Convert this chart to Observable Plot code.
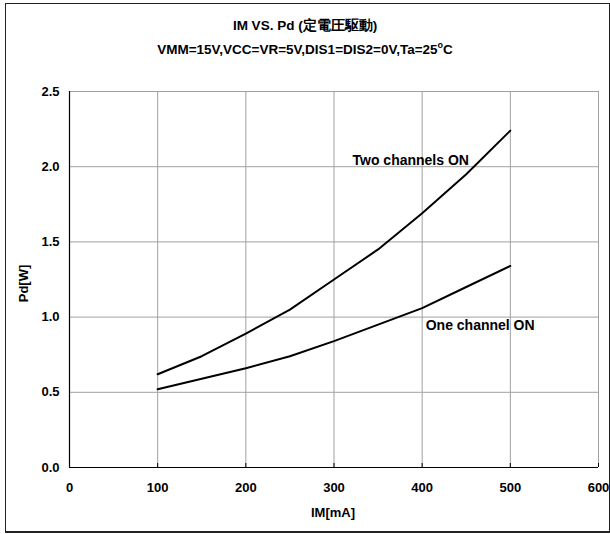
<!DOCTYPE html>
<html>
<head>
<meta charset="utf-8">
<script src="https://cdn.jsdelivr.net/npm/d3@7"></script>
<script src="https://cdn.jsdelivr.net/npm/@observablehq/plot@0.6"></script>
<style>
  body { margin: 0; background: #fff; }
  #wrap { position: relative; width: 610px; height: 534px; font-family: "Liberation Sans", Arial, sans-serif; }
  #frame { position: absolute; left: 5px; top: 3px; width: 603px; height: 527px; border: 1px solid #222; border-bottom-width: 2px; pointer-events: none; }
  .t { position: absolute; left: 0; width: 610px; text-align: center; font-weight: bold; color: #000; line-height: 1; }
  #title { top: 19px; font-size: 13.5px; }
  #sub { top: 41px; font-size: 13.5px; }
  #chart { position: absolute; left: 0; top: 0; }
  .ax { position: absolute; font-weight: bold; font-size: 13px; color: #000; line-height: 1; white-space: nowrap; }
  #xlab { left: 283px; width: 100px; text-align: center; top: 506px; }
  #ylab { left: -27px; width: 100px; text-align: center; top: 277px; transform: rotate(-90deg); }
</style>
</head>
<body>
<div id="wrap">
  <div id="chart"></div>
  <div id="frame"></div>
  <div id="title" class="t">IM VS. Pd (定電圧駆動)</div>
  <div id="sub" class="t">VMM=15V,VCC=VR=5V,DIS1=DIS2=0V,Ta=25<sup style="font-size:9px">o</sup>C</div>
  <div id="xlab" class="ax">IM[mA]</div>
  <div id="ylab" class="ax">Pd[W]</div>
</div>
<script>
const current = [100, 150, 200, 250, 300, 350, 400, 450, 500];
const twoChannels = [0.62, 0.74, 0.89, 1.05, 1.25, 1.45, 1.69, 1.95, 2.24];
const oneChannel = [0.52, 0.59, 0.66, 0.74, 0.84, 0.95, 1.06, 1.20, 1.34];
const xTicks = [0, 100, 200, 300, 400, 500, 600];
const yTicks = [0, 0.5, 1.0, 1.5, 2.0, 2.5];
const labels = [
  {name: "Two channels ON", x: 321, y: 2.04},
  {name: "One channel ON", x: 404, y: 0.945}
];

const two = current.map((x, i) => ({x, y: twoChannels[i]}));
const one = current.map((x, i) => ({x, y: oneChannel[i]}));

const plot = Plot.plot({
  width: 610,
  height: 534,
  marginLeft: 69,
  marginRight: 12,
  marginTop: 91,
  marginBottom: 67,
  style: {fontFamily: '"Liberation Sans", Arial, sans-serif', fontSize: "13px", fontWeight: "bold", color: "#000", background: "transparent"},
  x: {domain: [0, 600]},
  y: {domain: [0, 2.5]},
  marks: [
    Plot.gridX(xTicks.slice(1), {stroke: "#a0a0a0", strokeOpacity: 1}),
    Plot.gridY(yTicks.slice(1), {stroke: "#a0a0a0", strokeOpacity: 1}),
    Plot.ruleX(xTicks.slice(1), {y1: 0, y2: 0, insetTop: -4, stroke: "#000"}),
    Plot.axisX(xTicks, {tickSize: 0, tickPadding: 15, tickFormat: d => String(d), label: null, fontSize: 13}),
    Plot.axisY(yTicks, {tickSize: 0, tickPadding: 10, tickFormat: d => d.toFixed(1), label: null, fontSize: 13}),
    Plot.ruleX([0], {stroke: "#000", strokeWidth: 1.2}),
    Plot.ruleY([0], {stroke: "#000", strokeWidth: 1.2}),
    Plot.line(two, {x: "x", y: "y", stroke: "#000", strokeWidth: 2}),
    Plot.line(one, {x: "x", y: "y", stroke: "#000", strokeWidth: 2}),
    Plot.text(labels, {x: "x", y: "y", text: "name", textAnchor: "start", fontSize: 14, fontWeight: "bold", fill: "#000"})
  ]
});
document.getElementById("chart").appendChild(plot);
</script>
</body>
</html>
